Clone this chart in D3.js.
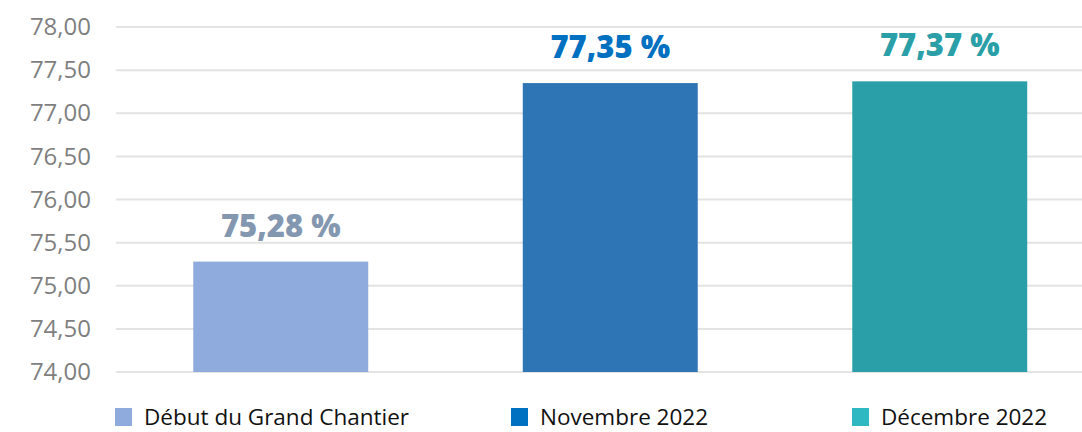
<!DOCTYPE html>
<html>
<head>
<meta charset="utf-8">
<script src="https://cdn.jsdelivr.net/npm/d3@7"></script>
<style>
    body { margin:0; background:#fff; }
    svg { display:block; }
    .axis-y text { font-family:'Open Sans', sans-serif; font-size:24px; fill:#7f7f7f; }
    .value-label { font-family:'Open Sans', sans-serif; font-weight:800; font-size:31px; }
    .legend text { font-family:'Open Sans', sans-serif; font-size:22.5px; fill:#111; }
</style>
</head>
<body>
<div id="chart"></div>
<script>
// data
const categories = ['Début du Grand Chantier', 'Novembre 2022', 'Décembre 2022'];
const values = [75.28, 77.35, 77.37];
const valueLabels = ['75,28 %', '77,35 %', '77,37 %'];
const yTicks = [74, 74.5, 75, 75.5, 76, 76.5, 77, 77.5, 78];

// colours per category
const barColors = ['#8faadc', '#2e75b6', '#2a9fa8'];
const labelColors = ['#8497b0', '#0070c0', '#2a9fa8'];
const legendColors = ['#8faadc', '#0070c0', '#2fb8c1'];

const width = 1082;
const height = 432;

const svg = d3.select('#chart')
    .append('svg')
    .attr('width', width)
    .attr('height', height);

// scales
const scaleX = d3.scaleBand()
    .domain(categories)
    .range([116, 1104.5])
    .paddingInner(0.469)
    .paddingOuter(0.2345);

const scaleY = d3.scaleLinear()
    .domain([74, 78])
    .range([372, 27]);

// gridlines
svg.append('g')
    .attr('class', 'grid')
    .selectAll('line')
    .data(yTicks)
    .join('line')
    .attr('x1', 116)
    .attr('x2', width)
    .attr('y1', d => scaleY(d))
    .attr('y2', d => scaleY(d))
    .style('stroke', '#e3e3e3')
    .style('stroke-width', 2);

// y axis labels
const axisY = d3.axisLeft(scaleY)
    .tickValues(yTicks)
    .tickSize(0)
    .tickPadding(0)
    .tickFormat(d => d3.format('.2f')(d).replace('.', ','));

svg.append('g')
    .attr('class', 'axis-y')
    .attr('transform', 'translate(91,0)')
    .call(axisY)
    .call(g => g.select('.domain').remove());

// bars
svg.append('g')
    .selectAll('rect')
    .data(values)
    .join('rect')
    .attr('x', (d, i) => scaleX(categories[i]))
    .attr('width', scaleX.bandwidth())
    .attr('y', d => scaleY(d))
    .attr('height', d => scaleY(74) - scaleY(d))
    .style('fill', (d, i) => barColors[i]);

// value labels
svg.append('g')
    .selectAll('text')
    .data(values)
    .join('text')
    .attr('class', 'value-label')
    .attr('x', (d, i) => scaleX(categories[i]) + scaleX.bandwidth() / 2)
    .attr('y', d => scaleY(d) - 25)
    .attr('text-anchor', 'middle')
    .style('fill', (d, i) => labelColors[i])
    .text((d, i) => valueLabels[i]);

// legend
const legendX = [115, 511, 852];
const legend = svg.append('g')
    .attr('class', 'legend')
    .selectAll('g')
    .data(categories)
    .join('g')
    .attr('transform', (d, i) => `translate(${legendX[i]},408)`);

legend.append('rect')
    .attr('width', 17)
    .attr('height', 18)
    .style('fill', (d, i) => legendColors[i]);

legend.append('text')
    .attr('x', 29)
    .attr('y', 17)
    .text(d => d);
</script>
</body>
</html>
